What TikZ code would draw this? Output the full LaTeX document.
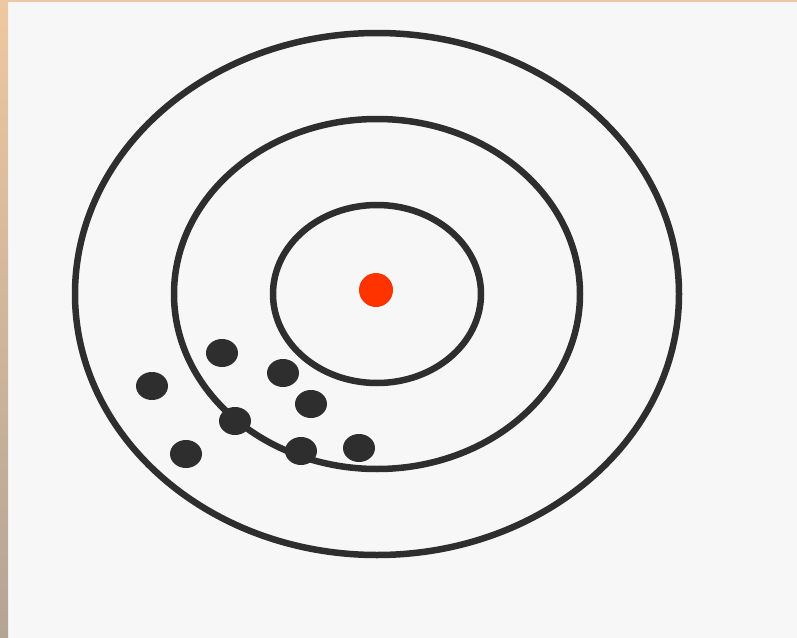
\documentclass[tikz,border=0pt]{standalone}
\definecolor{paper}{HTML}{F7F7F7}
\definecolor{peach}{HTML}{EEC8A0}
\definecolor{taupe}{HTML}{B4A496}
\definecolor{ink}{HTML}{2E2E2E}
\definecolor{bull}{HTML}{FF3300}
\begin{document}
\begin{tikzpicture}[x=0.025cm,y=-0.025cm,line join=round,line cap=round]
\fill[paper] (0,0) rectangle (797,638);
\useasboundingbox (0,0) rectangle (797,638);
\shade[top color=peach,bottom color=taupe] (0,0) rectangle (8,638);
\fill[peach] (0,0) rectangle (797,2);
\path
(377,294) coordinate (O)
;
\foreach \rx/\ry in {302/261, 203/175, 104/89}
\draw[ink,line width=6.5*0.025cm] (O) ellipse[x radius=\rx,y radius=\ry];
\fill[bull] (376,290) circle[radius=17];
\foreach \x/\y in {222/353, 152/386, 283/373, 311/404, 235/421, 186/454, 301/451, 359/448}
\fill[ink] (\x,\y) ellipse[x radius=16,y radius=14];
\end{tikzpicture}
\end{document}
